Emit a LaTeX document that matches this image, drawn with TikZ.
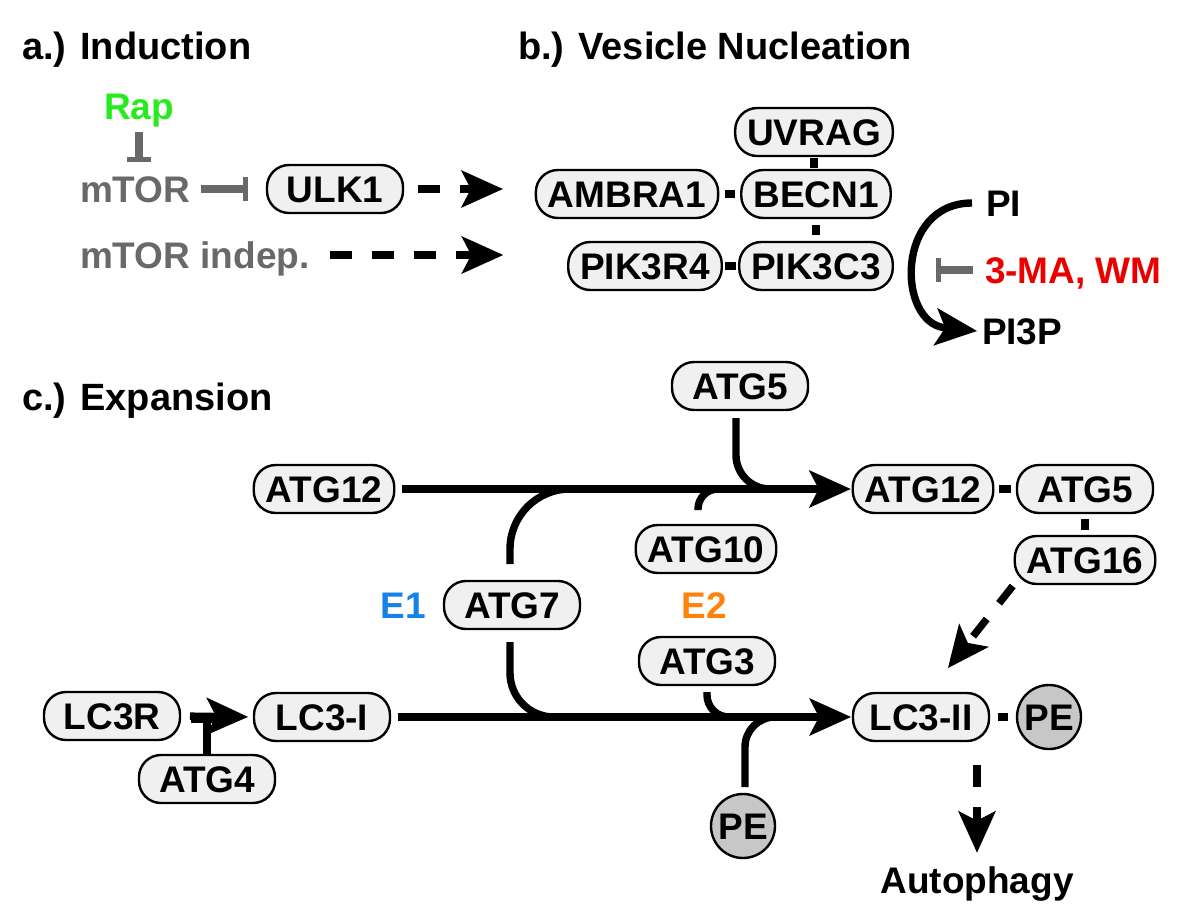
\documentclass[tikz,border=0pt]{standalone}
\usepackage{fontspec}
\setmainfont{Liberation Sans}
\usetikzlibrary{arrows.meta}
\definecolor{rapgreen}{RGB}{40,235,30}
\definecolor{inhgray}{RGB}{105,105,105}
\definecolor{drugred}{RGB}{235,0,0}
\definecolor{eoneblue}{RGB}{20,130,230}
\definecolor{etwoorange}{RGB}{255,130,10}
\newcommand{\protfont}{\bfseries\fontsize{18.5}{22}\selectfont}
\tikzset{
  prot/.style={draw, line width=1.2pt, fill=black!6, rounded corners=11pt,
    minimum width=68pt, minimum height=24pt, inner xsep=6pt, inner ysep=0pt,
    outer sep=0pt, text height=13.3pt, text depth=0pt, font=\protfont},
  lipid/.style={draw, circle, line width=1.2pt, fill=black!22, minimum size=32pt,
    inner sep=0pt, outer sep=0pt, text height=13.3pt, text depth=0pt, font=\protfont},
  lbl/.style={inner sep=0pt, outer sep=0pt, text height=13.3pt, text depth=0pt, font=\protfont},
  head/.style={lbl, anchor=west, font=\bfseries\fontsize{19}{23}\selectfont},
  feed/.style={line width=3.7pt},
  flow/.style={feed, -{Stealth[length=21pt,width=19pt,inset=5pt,line width=0pt]}},
  dflow/.style={flow, dash pattern=on 11pt off 10pt},
  inhib/.style={line width=3.7pt, draw=inhgray, -{Bar[width=12pt,line width=2.6pt]}},
  link/.style={line width=4pt, shorten <=#1, shorten >=#1},
}
\begin{document}
\begin{tikzpicture}[x=0.5pt, y=0.5pt] %1px = 0.5pt
  \path[use as bounding box, fill=white] (0,0) rectangle (1200,-921);
  % headings
  \node[head] (ha) at (22,-46) {a.) Induction};
  \node[head] (hb) at (518,-46) {b.) Vesicle Nucleation};
  \node[head] (hc) at (22,-397) {c.) Expansion};
  % a.) induction
  \node[lbl, text=rapgreen] (rap) at (139,-106) {Rap};
  \node[lbl, text=inhgray, anchor=west] (mtor) at (80,-189) {mTOR};
  \node[prot] (ulk1) at (335,-189) {ULK1};
  \node[lbl, text=inhgray, anchor=west] (mtorind) at (80,-255) {mTOR indep.};
  \draw[inhib, shorten <=13pt, shorten >=13.5pt] (rap.center) -- (rap.center |- mtor.center);
  \draw[inhib, shorten <=33pt, shorten >=9.5pt] (mtor.center) -- (ulk1.west);
  % b.) vesicle nucleation
  \node[prot] (uvrag) at (814,-132) {UVRAG};
  \node[prot] (becn1) at (816,-194) {BECN1};
  \node[prot] (ambra1) at (627,-194) {AMBRA1};
  \node[prot] (pik3c3) at (816,-266) {PIK3C3};
  \node[prot] (pik3r4) at (645,-266) {PIK3R4};
  \node[lbl, anchor=west] (pi) at (986,-203) {PI};
  \node[lbl, anchor=west] (pi3p) at (982,-331) {PI3P};
  \node[lbl, anchor=west, text=drugred] (mawm) at (985,-270) {3-MA, WM};
  \coordinate (pibar) at (936,-270);
  \draw[link=3.2pt] (ambra1) -- (becn1);
  \draw[link=1.7pt] (pik3r4) -- (pik3c3);
  \draw[link=0.8pt] (uvrag.south) -- (uvrag.south |- becn1.north);
  \draw[link=3.3pt] (becn1.south) -- (pik3c3.north);
  \draw[dflow, shorten <=7.5pt, shorten >=16.5pt] (ulk1.east) -- (ulk1.east -| ambra1.west);
  \draw[dflow, shorten <=10pt, shorten >=32.5pt] (mtorind.east) -- (mtorind.east -| pik3r4.west);
  \draw[flow] ([xshift=-7pt]pi.west) .. controls +(-77,0) and +(-80,8) .. ([xshift=-2.5pt]pi3p.west);
  \draw[inhib, shorten <=6pt] (mawm.west) -- (pibar);
  % c.) expansion
  \node[prot] (atg12) at (324,-489) {ATG12};
  \node[prot] (atg5) at (740,-386) {ATG5};
  \node[prot] (atg12c) at (923,-489) {ATG12};
  \node[prot] (atg5c) at (1085,-489) {ATG5};
  \node[prot] (atg16) at (1085,-560) {ATG16};
  \node[prot] (atg10) at (706,-549) {ATG10};
  \node[lbl, text=eoneblue] (e1) at (403,-605) {E1};
  \node[prot] (atg7) at (512,-605) {ATG7};
  \node[lbl, text=etwoorange] (e2) at (704,-605) {E2};
  \node[prot] (atg3) at (707,-661) {ATG3};
  \node[prot] (lc3r) at (112,-716) {LC3R};
  \node[prot] (lc3i) at (322,-717) {LC3-I};
  \node[prot] (atg4) at (207,-779) {ATG4};
  \node[prot] (lc3ii) at (921,-717) {LC3-II};
  \node[lipid] (pec) at (1049,-717) {PE};
  \node[lipid] (pe) at (743,-826) {PE};
  \node[lbl] (auto) at (977,-880) {Autophagy};
  \coordinate (m5) at (800,-489);
  \coordinate (m7a) at (640,-489);
  \coordinate (m10) at (770,-489);
  \coordinate (m7b) at (640,-717);
  \coordinate (m3) at (770,-717);
  \coordinate (mpe) at (810,-717);
  \draw[flow, shorten <=4pt, shorten >=1pt] (atg12.east) -- (atg12c.west);
  \draw[flow, shorten <=4pt, shorten >=1pt] (lc3i.east) -- (lc3ii.west);
  \draw[feed, rounded corners=17pt] ([shift={(-4,-8)}]atg5.south) |- (m5);
  \draw[feed, rounded corners=30pt] ([shift={(-2,17)}]atg7.north) |- (m7a);
  \draw[feed, rounded corners=22pt] ([shift={(-2,-13)}]atg7.south) |- (m7b);
  \draw[feed, rounded corners=10pt] ([shift={(-8,15)}]atg10.north) |- (m10);
  \draw[feed, rounded corners=11pt] ([shift={(0,-7)}]atg3.south) |- (m3);
  \draw[feed, rounded corners=15pt] ([shift={(2,7)}]pe.north) |- (mpe);
  \draw[flow, shorten <=5pt, shorten >=3pt] (lc3r.east) -- (lc3i.west);
  \draw[feed, -{Bar[width=16pt,line width=3.7pt]}] (atg4.north) -- (atg4.north |- lc3r.east);
  \draw[link=2.9pt] (atg12c) -- (atg5c);
  \draw[link=3pt] (atg5c.south) -- (atg5c.south |- atg16.north);
  \draw[link=4.3pt] (lc3ii) -- (pec);
  \draw[dflow] ([shift={(-2,-2)}]atg16.south west) -- ([shift={(27,25)}]lc3ii.north);
  \draw[dflow, shorten <=12pt, shorten >=7pt] (auto.north |- lc3ii.south) -- (auto.north);
\end{tikzpicture}
\end{document}
